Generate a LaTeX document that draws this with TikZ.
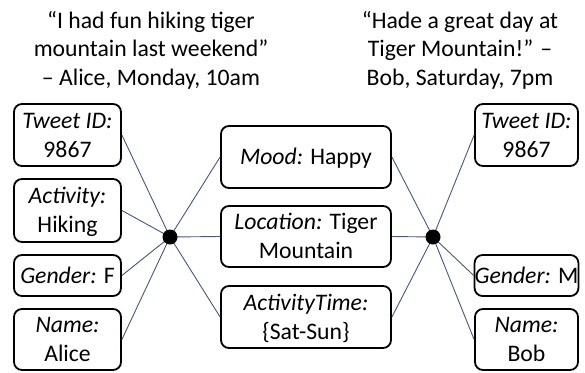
\documentclass[tikz,border=0pt]{standalone}
\usepackage{fontspec}
\setmainfont{Carlito}
\definecolor{linkc}{RGB}{72,88,120}
\begin{document}
\begin{tikzpicture}[x=1pt,y=-1pt,
  attr/.style={draw=black, line width=1.8pt, rounded corners=8pt, fill=white,
    align=center, inner sep=0pt, text height=15.3pt, text depth=0pt,
    font=\fontsize{23.7}{29}\selectfont},
  twolines/.style={text height=44.3pt},
  lbox/.style={attr, minimum width=107pt},
  mbox/.style={attr, minimum width=170pt},
  rbox/.style={attr, minimum width=103pt},
  hub/.style={circle, fill=black, inner sep=0pt, minimum size=15pt},
  link/.style={draw=linkc, line width=0.9pt},
  quote/.style={align=center, inner sep=0pt, font=\fontsize{23.7}{28.4}\selectfont}]
\useasboundingbox (0,0) rectangle (585,372);
% quotes
\node[quote, anchor=base] (q1) at (151,85) {“I had fun hiking tiger\\mountain last weekend”\\– Alice, Monday, 10am};
\node[quote, anchor=base] (q2) at (460,85) {“Hade a great day at\\Tiger Mountain!” –\\Bob, Saturday, 7pm};
% left boxes
\node[lbox, twolines, minimum height=62pt] (ltid) at (67.5,135) {\textit{Tweet ID:}\\9867};
\node[lbox, twolines, minimum height=63pt] (lact) at (67.5,210.5) {\textit{Activity:}\\Hiking};
\node[lbox, minimum height=41pt] (lgen) at (67.5,275.5) {\textit{Gender:} F};
\node[lbox, twolines, minimum height=61pt] (lnam) at (67.5,339.5) {\textit{Name:}\\Alice};
% middle boxes
\node[mbox, minimum height=62pt] (mood) at (306,157) {\textit{Mood:} Happy};
\node[mbox, twolines, minimum height=61pt] (loc) at (306,236.5) {\textit{Location:} Tiger\\Mountain};
\node[mbox, twolines, minimum height=62pt] (atime) at (306,317) {\textit{ActivityTime:}\\\{Sat-Sun\}};
% right boxes
\node[rbox, twolines, minimum height=62pt] (rtid) at (526.5,135) {\textit{Tweet ID:}\\9867};
\node[rbox, minimum height=41pt] (rgen) at (526.5,275.5) {\textit{Gender:} M};
\node[rbox, twolines, minimum height=61pt] (rnam) at (526.5,339.5) {\textit{Name:}\\Bob};
% hubs
\coordinate (lh) at (170,237);
\coordinate (rh) at (433,237);
\foreach \b in {ltid,lact,lgen,lnam} \draw[link] (lh) -- (\b.east);
\foreach \b in {mood,loc,atime} \draw[link] (lh) -- (\b.west);
\foreach \b in {mood,loc,atime} \draw[link] (rh) -- (\b.east);
\foreach \b in {rtid,rgen,rnam} \draw[link] (rh) -- (\b.west);
\node[hub] (lhub) at (lh) {};
\node[hub] (rhub) at (rh) {};
\end{tikzpicture}
\end{document}
